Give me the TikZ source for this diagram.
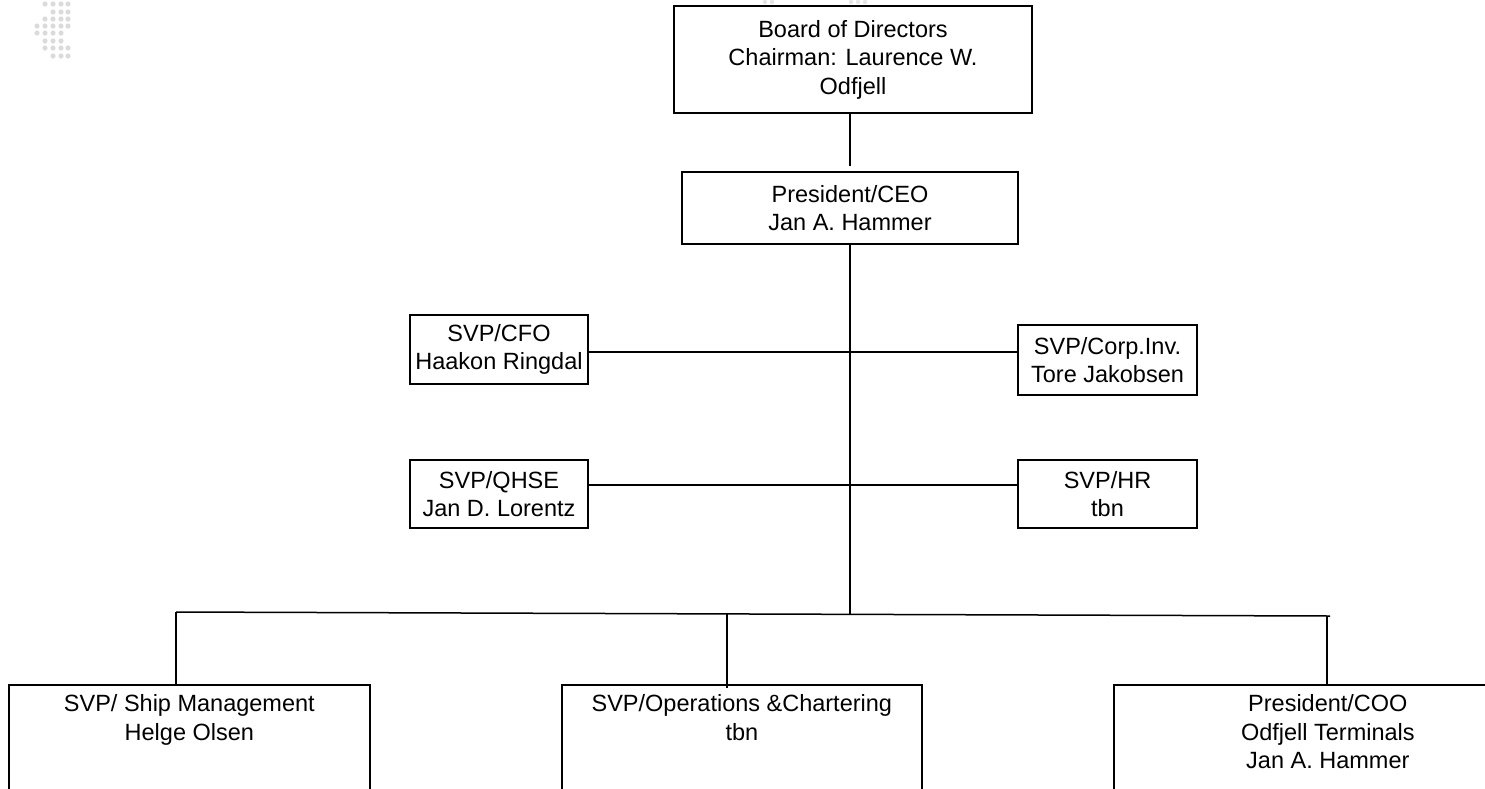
\documentclass[tikz,border=0pt]{standalone}
\usepackage{fontspec}
\setmainfont{Liberation Sans}
\begin{document}
\begin{tikzpicture}[x=1pt,y=-1pt,
  box/.style={draw=black, line width=1.7pt, inner sep=0pt, align=center,
    font=\fontsize{23.5}{28.5}\selectfont},
  topbox/.style={draw=black, line width=1.7pt, inner sep=0pt, anchor=north west},
  link/.style={line width=1.5pt, draw=black},
  logodot/.style={fill=gray!28, draw=none}]
\useasboundingbox (0,0) rectangle (1485,788);
\clip (0,0) rectangle (1485,788);
% faint logo
\foreach \x/\y in {45/4,53/4,61/4,68/4,
  53/12,61/12,68/12,
  45/19,53/19,61/19,68/19,
  37/26,45/26,53/26,61/26,68/26,
  37/33,45/33,53/33,61/33,
  45/41,53/41,61/41,
  45/48,53/48,61/48,68/48,
  53/56,61/56,68/56}
  \fill[logodot] (\x,\y) circle (2.6);
\foreach \x in {765,772,851,858,865}
  \fill[gray!20] (\x,2) circle (2.2);
% nodes
\node[box, minimum width=358, minimum height=107] (board) at (853,59.5)
  {Board of Directors\\Chairman: Laurence W.\\Odfjell};
\node[box, minimum width=336, minimum height=72] (pres) at (850,208)
  {President/CEO\\Jan A. Hammer};
\node[box, minimum width=178, minimum height=69] (cfo) at (499,349.5)
  {SVP/CFO\\Haakon Ringdal};
\node[box, minimum width=179, minimum height=70] (corp) at (1107.5,360)
  {SVP/Corp.Inv.\\Tore Jakobsen};
\node[box, minimum width=178, minimum height=68] (qhse) at (499,494)
  {SVP/QHSE\\Jan D. Lorentz};
\node[box, minimum width=179, minimum height=68] (hr) at (1107.5,494)
  {SVP/HR\\tbn};
\node[topbox] (ship) at (8,684)
  {\parbox[t][150pt][t]{361pt}{\centering\fontsize{23.5}{28.5}\selectfont\vspace*{10pt}SVP/ Ship Management\\Helge Olsen}};
\node[topbox] (ops) at (561,684)
  {\parbox[t][150pt][t]{360pt}{\centering\fontsize{23.5}{28.5}\selectfont\vspace*{10pt}SVP/Operations \&Chartering\\tbn}};
\node[topbox] (term) at (1113,684)
  {\parbox[t][150pt][t]{428pt}{\centering\fontsize{23.5}{28.5}\selectfont\vspace*{10pt}President/COO\\Odfjell Terminals\\Jan A. Hammer}};
% coordinates
\coordinate (bp) at (850,166);
\coordinate (trunk) at (850,614);
\coordinate (row1) at (850,352);
\coordinate (row2) at (850,485);
\coordinate (busL) at (176,612);
\coordinate (busM) at (727,614);
\coordinate (busR) at (1330,616);
\coordinate (dropR) at (1327,616);
% connectors
\draw[link] (board.south -| bp) -- (bp);
\draw[link] (pres.south -| trunk) -- (trunk);
\draw[link] (cfo.east |- row1) -- (corp.west |- row1);
\draw[link] (qhse.east |- row2) -- (hr.west |- row2);
\draw[link] (busL) -- (busR);
\draw[link] (busL) -- (busL |- ship.north);
\draw[link] (busM) -- ([yshift=-4pt]busM |- ops.north);
\draw[link] (dropR) -- (dropR |- term.north);
\end{tikzpicture}
\end{document}
